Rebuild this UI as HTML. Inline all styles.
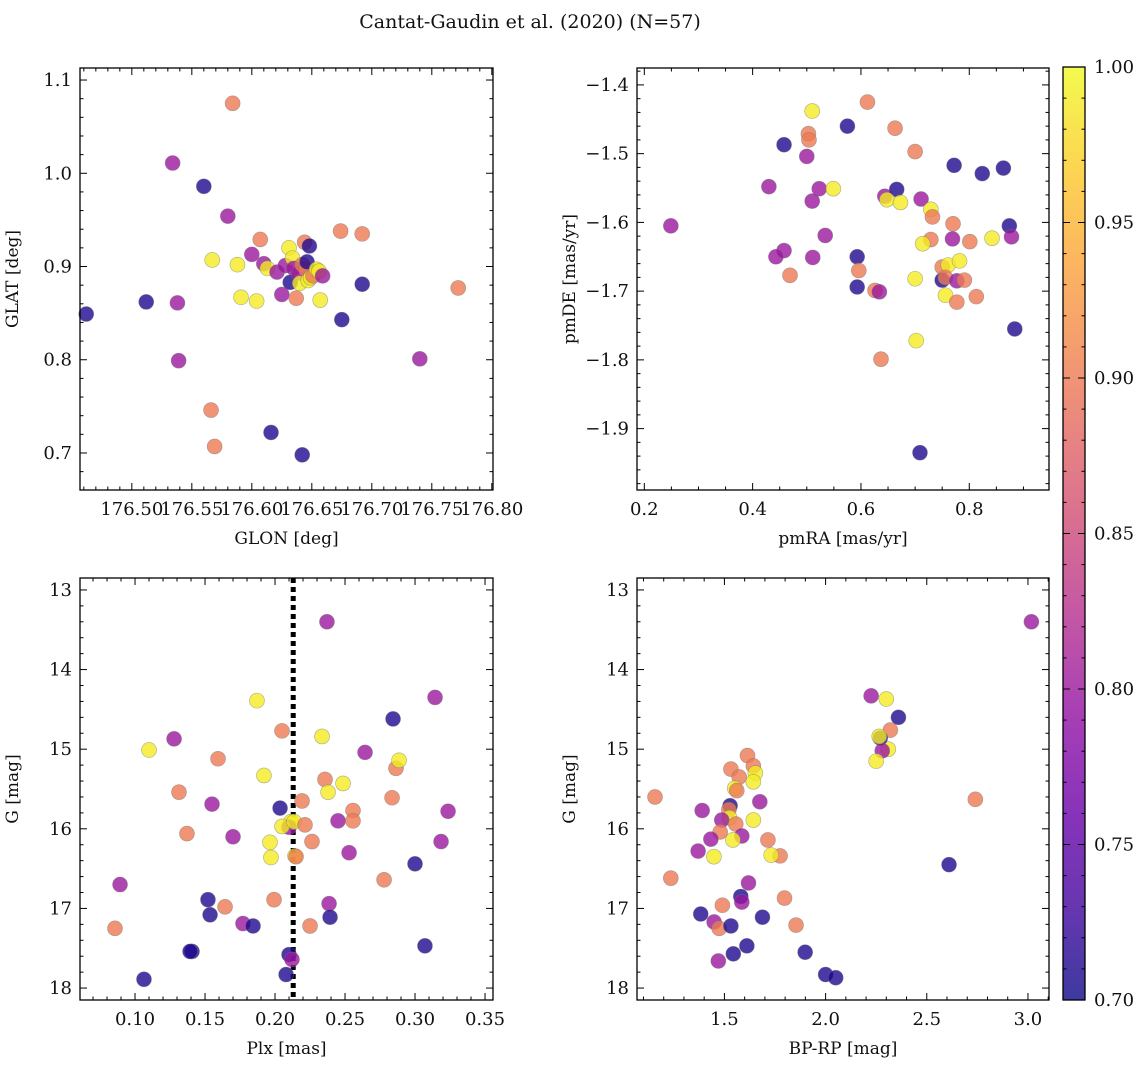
<!DOCTYPE html>
<html><head><meta charset="utf-8">
<style>
body{margin:0;background:#fff;}
svg text{font-family:"DejaVu Serif","Liberation Serif",serif;fill:#111;}
</style></head>
<body>
<svg id="fig" width="1148" height="1067" viewBox="0 0 1148 1067" xmlns="http://www.w3.org/2000/svg">
<text x="530" y="28" font-size="19" text-anchor="middle">Cantat-Gaudin et al. (2020) (N=57)</text>
</svg>
<script>
// Panel 1: GLON vs GLAT
const p1x=[176.462,176.512,176.534,176.538,176.539,176.560,176.566,176.567,176.569,176.580,176.584,176.588,176.591,176.600,176.604,176.607,176.610,176.613,176.616,176.621,176.625,176.628,176.631,176.632,176.634,176.635,176.637,176.639,176.640,176.642,176.642,176.644,176.645,176.646,176.647,176.648,176.649,176.651,176.654,176.656,176.657,176.659,176.675,176.674,176.692,176.692,176.740,176.772];
const p1y=[0.849,0.862,1.011,0.861,0.799,0.986,0.746,0.907,0.707,0.954,1.075,0.902,0.867,0.913,0.863,0.929,0.903,0.898,0.722,0.894,0.870,0.901,0.920,0.883,0.909,0.898,0.866,0.893,0.882,0.902,0.698,0.926,0.897,0.905,0.885,0.922,0.888,0.890,0.897,0.895,0.864,0.890,0.843,0.938,0.935,0.881,0.801,0.877];
const p1c=[0.71,0.71,0.80,0.80,0.80,0.71,0.90,0.99,0.90,0.80,0.90,0.99,0.99,0.80,0.99,0.90,0.80,0.99,0.71,0.80,0.80,0.80,0.99,0.71,0.99,0.80,0.90,0.80,0.99,0.90,0.71,0.90,0.90,0.71,0.99,0.71,0.99,0.90,0.99,0.99,0.99,0.80,0.71,0.90,0.90,0.71,0.80,0.90];
// Panel 2: pmRA vs pmDE
const p2x=[0.510,0.612,0.575,0.503,0.504,0.663,0.458,0.500,0.700,0.772,0.824,0.863,0.430,0.523,0.549,0.510,0.644,0.666,0.648,0.673,0.711,0.729,0.732,0.770,0.874,0.878,0.842,0.801,0.769,0.729,0.714,0.534,0.458,0.443,0.511,0.593,0.596,0.469,0.593,0.626,0.634,0.700,0.750,0.761,0.782,0.750,0.756,0.777,0.791,0.756,0.777,0.813,0.884,0.702,0.637,0.249,0.709];
const p2y=[-1.438,-1.425,-1.460,-1.471,-1.480,-1.463,-1.487,-1.504,-1.497,-1.517,-1.529,-1.521,-1.548,-1.551,-1.551,-1.569,-1.562,-1.552,-1.567,-1.571,-1.566,-1.581,-1.592,-1.602,-1.605,-1.621,-1.623,-1.628,-1.624,-1.625,-1.631,-1.619,-1.641,-1.650,-1.651,-1.650,-1.670,-1.677,-1.694,-1.699,-1.701,-1.682,-1.665,-1.662,-1.656,-1.684,-1.680,-1.685,-1.684,-1.706,-1.716,-1.708,-1.755,-1.772,-1.799,-1.605,-1.935];
const p2c=[0.99,0.90,0.71,0.90,0.90,0.90,0.71,0.80,0.90,0.71,0.71,0.71,0.80,0.80,0.99,0.80,0.80,0.71,0.99,0.99,0.80,0.99,0.90,0.90,0.71,0.80,0.99,0.90,0.80,0.90,0.99,0.80,0.80,0.80,0.80,0.71,0.90,0.90,0.71,0.90,0.80,0.99,0.90,0.99,0.99,0.71,0.90,0.80,0.90,0.99,0.90,0.90,0.71,0.99,0.90,0.80,0.71];
// Panel 3: Plx vs G
const p3x=[0.0857,0.0893,0.1064,0.1100,0.1279,0.1314,0.1371,0.1407,0.1393,0.1521,0.1536,0.1550,0.1593,0.1643,0.1700,0.1771,0.1843,0.1871,0.2050,0.1921,0.1971,0.1964,0.1993,0.2036,0.2079,0.2100,0.2121,0.2114,0.2100,0.2050,0.2136,0.2143,0.2150,0.2193,0.2214,0.2264,0.2250,0.2336,0.2357,0.2371,0.2379,0.2386,0.2393,0.2450,0.2486,0.2529,0.2557,0.2557,0.2643,0.2779,0.2836,0.2864,0.2843,0.2886,0.3000,0.3071,0.3143,0.3186,0.3236];
const p3y=[17.25,16.70,17.89,15.01,14.87,15.54,16.06,17.54,17.54,16.89,17.08,15.69,15.12,16.98,16.10,17.19,17.22,14.39,14.77,15.33,16.36,16.17,16.89,15.74,17.83,17.58,17.64,15.91,15.98,15.97,15.91,16.34,16.35,15.65,15.95,16.16,17.22,14.84,15.38,13.40,15.54,16.94,17.11,15.90,15.43,16.30,15.77,15.90,15.04,16.64,15.61,15.24,14.62,15.14,16.44,17.47,14.35,16.16,15.78];
const p3c=[0.90,0.80,0.71,0.99,0.80,0.90,0.90,0.71,0.71,0.71,0.71,0.80,0.90,0.90,0.80,0.80,0.71,0.99,0.90,0.99,0.99,0.99,0.90,0.71,0.71,0.71,0.80,0.99,0.80,0.99,0.99,0.99,0.90,0.90,0.90,0.90,0.90,0.99,0.90,0.80,0.99,0.80,0.71,0.80,0.99,0.80,0.90,0.90,0.80,0.90,0.90,0.90,0.71,0.99,0.71,0.71,0.80,0.80,0.80];
// Panel 4: BP-RP vs G
const p4x=[1.614,1.643,1.653,1.532,1.573,1.643,1.551,1.561,1.157,1.675,1.390,1.528,1.522,1.525,1.487,1.556,1.643,1.479,1.586,1.433,1.542,1.370,1.448,1.715,1.775,1.731,1.235,1.619,1.581,1.586,1.797,1.490,1.383,1.449,1.474,1.532,1.688,1.854,1.611,1.544,1.470,1.899,2.000,2.050,2.225,2.300,2.360,2.320,2.310,2.270,2.280,2.250,2.265,2.610,2.740,3.017];
const p4y=[15.08,15.21,15.30,15.25,15.35,15.41,15.49,15.52,15.60,15.66,15.77,15.71,15.76,15.86,15.89,15.94,15.89,16.04,16.09,16.13,16.14,16.28,16.35,16.14,16.34,16.33,16.62,16.68,16.85,16.92,16.87,16.96,17.07,17.17,17.25,17.22,17.11,17.21,17.47,17.57,17.66,17.55,17.83,17.87,14.33,14.37,14.60,14.76,15.00,14.86,15.02,15.15,14.84,16.45,15.63,13.40];
const p4c=[0.90,0.90,0.99,0.90,0.90,0.99,0.99,0.90,0.90,0.80,0.80,0.71,0.90,0.99,0.80,0.90,0.99,0.90,0.80,0.80,0.99,0.80,0.99,0.90,0.90,0.99,0.90,0.80,0.71,0.80,0.90,0.90,0.71,0.80,0.90,0.71,0.71,0.90,0.71,0.71,0.80,0.71,0.71,0.71,0.80,0.99,0.71,0.90,0.99,0.71,0.80,0.99,0.99,0.71,0.90,0.80];
const cbTicks=["0.70","0.75","0.80","0.85","0.90","0.95","1.00"];

const NS="http://www.w3.org/2000/svg";
const svg=document.getElementById('fig');
const plasma=[[13,8,135],[65,4,157],[106,0,168],[143,13,164],[177,42,144],[204,71,120],[225,100,98],[242,132,75],[252,166,54],[252,206,37],[240,249,33]];
function cmap(c){let t=(c-0.7)/0.3;t=Math.max(0,Math.min(1,t))*10;const i=Math.min(9,Math.floor(t)),f=t-i;const a=plasma[i],b=plasma[i+1];return 'rgb('+a.map((v,k)=>Math.round(v+(b[k]-v)*f)).join(',')+')';}
function mk(tag,attrs,parent){const e=document.createElementNS(NS,tag);for(const k in attrs)e.setAttribute(k,attrs[k]);(parent||svg).appendChild(e);return e;}

function panel(o){
  const g=mk('g',{});
  
  
  const sx=v=>o.x0+(v-o.xmin)/(o.xmax-o.xmin)*(o.x1-o.x0);
  const sy=v=>o.inv? o.y0+(v-o.ymin)/(o.ymax-o.ymin)*(o.y1-o.y0) : o.y1-(v-o.ymin)/(o.ymax-o.ymin)*(o.y1-o.y0);
  if(o.vline!==undefined){
    const l=mk('line',{x1:sx(o.vline),x2:sx(o.vline),y1:o.y0,y2:o.y1,stroke:'#000','stroke-width':5,'stroke-dasharray':'5,4'},g);
    
    
  }
  for(let i=0;i<o.xs.length;i++){
    const c=mk('circle',{cx:sx(o.xs[i]),cy:sy(o.ys[i]),r:7.5,fill:cmap(o.cs[i]),'fill-opacity':0.8,stroke:'#777','stroke-opacity':0.6,'stroke-width':0.6},g);
    
    
  }
  const fr=mk('rect',{x:o.x0,y:o.y0,width:o.x1-o.x0,height:o.y1-o.y0,fill:'none',stroke:'#000','stroke-width':1.3},g);
  
  
  const eps=1e-9;
  for(let v=Math.ceil(o.xmin/o.xmn-eps)*o.xmn;v<=o.xmax+eps;v+=o.xmn){
    const X=sx(v);const maj=Math.abs(v/o.xmj-Math.round(v/o.xmj))<1e-6;const L=maj?7:3.5;
    mk('line',{x1:X,x2:X,y1:o.y1,y2:o.y1-L,stroke:'#000','stroke-width':1},g);
    mk('line',{x1:X,x2:X,y1:o.y0,y2:o.y0+L,stroke:'#000','stroke-width':1},g);
    if(maj){const t=mk('text',{x:X,y:o.y1+25,'font-size':18,'text-anchor':'middle'},g);t.textContent=v.toFixed(o.xd);
      }
  }
  for(let v=Math.ceil(o.ymin/o.ymn-eps)*o.ymn;v<=o.ymax+eps;v+=o.ymn){
    const Y=sy(v);const maj=Math.abs(v/o.ymj-Math.round(v/o.ymj))<1e-6;const L=maj?7:3.5;
    mk('line',{x1:o.x0,x2:o.x0+L,y1:Y,y2:Y,stroke:'#000','stroke-width':1},g);
    mk('line',{x1:o.x1,x2:o.x1-L,y1:Y,y2:Y,stroke:'#000','stroke-width':1},g);
    if(maj){const t=mk('text',{x:o.x0-8,y:Y+6,'font-size':18,'text-anchor':'end'},g);t.textContent=(Math.abs(v)<1e-9?0:v).toFixed(o.yd).replace('-','\u2212');
      }
  }
  const xl=mk('text',{x:(o.x0+o.x1)/2,y:o.y1+54,'font-size':17,'text-anchor':'middle'},g);xl.textContent=o.xl;
  
  const yx=o.x0-62,yy=(o.y0+o.y1)/2;
  const yl=mk('text',{x:yx,y:yy,'font-size':17,'text-anchor':'middle',transform:'rotate(-90 '+yx+' '+yy+')'},g);yl.textContent=o.yl;
  
}
panel({name:'glon-glat-panel',xs:p1x,ys:p1y,cs:p1c,x0:80,x1:493,y0:68,y1:490,xmin:176.4568,xmax:176.8010,ymin:0.6603,ymax:1.1129,xmj:0.05,xmn:0.01,ymj:0.1,ymn:0.02,xd:2,yd:1,xl:'GLON [deg]',yl:'GLAT [deg]'});
panel({name:'pm-panel',xs:p2x,ys:p2y,cs:p2c,x0:637,x1:1049,y0:68,y1:490,xmin:0.1865,xmax:0.9472,ymin:-1.9893,ymax:-1.3754,xmj:0.2,xmn:0.05,ymj:0.1,ymn:0.02,xd:1,yd:1,xl:'pmRA [mas/yr]',yl:'pmDE [mas/yr]'});
panel({name:'plx-g-panel',xs:p3x,ys:p3y,cs:p3c,x0:80,x1:493,y0:578,y1:1000,xmin:0.0607,xmax:0.3557,ymin:12.85,ymax:18.15,inv:true,vline:0.213,xmj:0.05,xmn:0.01,ymj:1,ymn:0.2,xd:2,yd:0,xl:'Plx [mas]',yl:'G [mag]'});
panel({name:'cmd-panel',xs:p4x,ys:p4y,cs:p4c,x0:637,x1:1049,y0:578,y1:1000,xmin:1.068,xmax:3.104,ymin:12.85,ymax:18.15,inv:true,xmj:0.5,xmn:0.1,ymj:1,ymn:0.2,xd:1,yd:0,xl:'BP-RP [mag]',yl:'G [mag]'});

const defs=mk('defs',{});
const lg=mk('linearGradient',{id:'cbg',x1:0,y1:1,x2:0,y2:0},defs);
plasma.forEach((p,i)=>mk('stop',{offset:(i/10),'stop-color':'rgb('+p.join(',')+')','stop-opacity':0.8},lg));
const cb=mk('g',{});


const cx0=1063,cx1=1085,cy0=67,cy1=1000;
mk('rect',{x:cx0,y:cy0,width:cx1-cx0,height:cy1-cy0,fill:'url(#cbg)',stroke:'#000','stroke-width':1.3},cb);
for(let k=0;k<=30;k++){const v=0.7+k*0.01;const Y=cy1-(v-0.7)/0.3*(cy1-cy0);const maj=k%5===0;const L=maj?7:3.5;
  mk('line',{x1:cx1,x2:cx1-L,y1:Y,y2:Y,stroke:'#000','stroke-width':1},cb);
  mk('line',{x1:cx0,x2:cx0+L,y1:Y,y2:Y,stroke:'#000','stroke-width':1},cb);
}
cbTicks.forEach((s,i)=>{const Y=cy1-i/6*(cy1-cy0);const t=mk('text',{x:cx1+9,y:Y+6,'font-size':18},cb);t.textContent=s;
  });
</script>
</body></html>
